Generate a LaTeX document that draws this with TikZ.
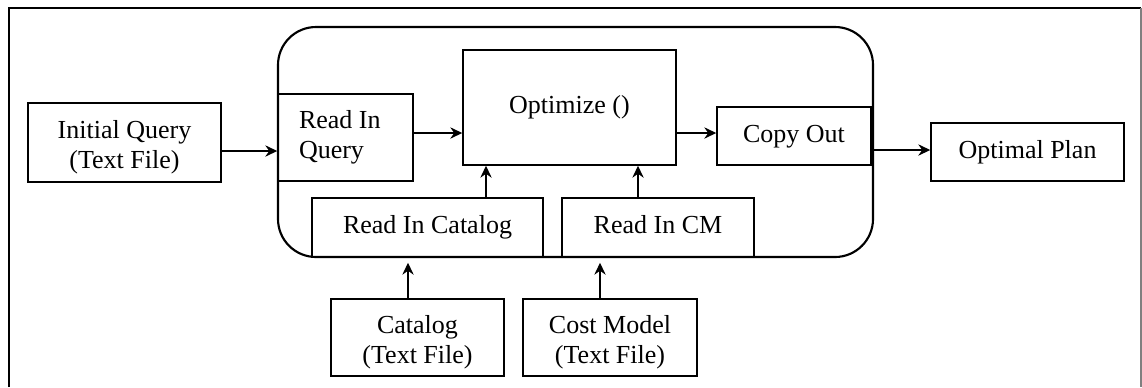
\documentclass[tikz,border=0pt]{standalone}
\usepackage{fontspec}
\setmainfont{Liberation Serif}
\usetikzlibrary{arrows.meta}
\begin{document}
\begin{tikzpicture}[x=0.75pt,y=-0.75pt,
  font=\fontsize{19.5}{22.5}\selectfont,
  box/.style={draw,line width=1.1pt,rectangle,inner sep=0pt,align=center},
  one/.style={text height=13pt,text depth=4pt},
  two/.style={label={[align=center,anchor=center,yshift=-3.5pt]center:#1}},
  arr/.style={line width=1.1pt,-{Stealth[length=9pt,width=8.5pt,inset=3pt]}}]
\useasboundingbox (0,0) rectangle (1142,387);
% outer frame
\draw[line width=1.2pt] (9,387) -- (9,8) -- (1141,8);
\draw[line width=0.9pt,gray] (1141,8) -- (1141,387);
% container
\node[draw,line width=1.6pt,rounded corners=28.5pt,minimum width=446.25pt,minimum height=172.5pt,inner sep=0pt] (main) at (575.5,142) {};
% boxes
\node[box,minimum width=144.75pt,minimum height=59.25pt,two={Initial Query\\(Text File)}] (iq) at (124.5,142.5) {};
\node[box,minimum width=101.25pt,minimum height=65.25pt,align=flush left,text width=69.75pt,inner xsep=15.75pt] (rq) at (345.5,137.5) {Read In\\Query};
\node[box,one,minimum width=159.75pt,minimum height=86.25pt] (opt) at (569.5,107.5) {Optimize ()};
\node[box,one,minimum width=173.25pt,minimum height=44.25pt] (rc) at (427.5,227.5) {Read In Catalog};
\node[box,one,minimum width=144pt,minimum height=44.25pt] (rcm) at (658,227.5) {Read In CM};
\node[box,one,minimum width=115.5pt,minimum height=43.5pt] (co) at (794,136) {Copy Out};
\node[box,one,minimum width=144.75pt,minimum height=43.5pt] (op) at (1027.5,152) {Optimal Plan};
\node[box,minimum width=129.75pt,minimum height=57.75pt,two={Catalog\\(Text File)}] (cat) at (417.5,337.5) {};
\node[box,minimum width=130.5pt,minimum height=57.75pt,two={Cost Model\\(Text File)}] (cm) at (610,337.5) {};
% connectors
\path ([yshift=-6.375pt]iq.east) coordinate (a1);
\draw[arr] (a1) -- (a1 -| rq.west);
\path ([yshift=3.375pt]rq.east) coordinate (a2);
\draw[arr] (a2) -- (a2 -| opt.west);
\path ([yshift=-19.125pt]opt.east) coordinate (a3);
\draw[arr] (a3) -- (a3 -| co.west);
\path ([yshift=-10.5pt]co.east) coordinate (a4);
\draw[arr] (a4) -- (a4 -| op.west);
\path ([xshift=43.875pt]rc.north) coordinate (a5);
\draw[arr] (a5) -- (a5 |- opt.south);
\path ([xshift=-15pt]rcm.north) coordinate (a6);
\draw[arr] (a6) -- (a6 |- opt.south);
\path ([xshift=-7.125pt]cat.north) coordinate (a7);
\draw[arr,shorten >=3.5pt] (a7) -- (a7 |- main.south);
\path ([xshift=-7.5pt]cm.north) coordinate (a8);
\draw[arr,shorten >=3.5pt] (a8) -- (a8 |- main.south);
\end{tikzpicture}
\end{document}
